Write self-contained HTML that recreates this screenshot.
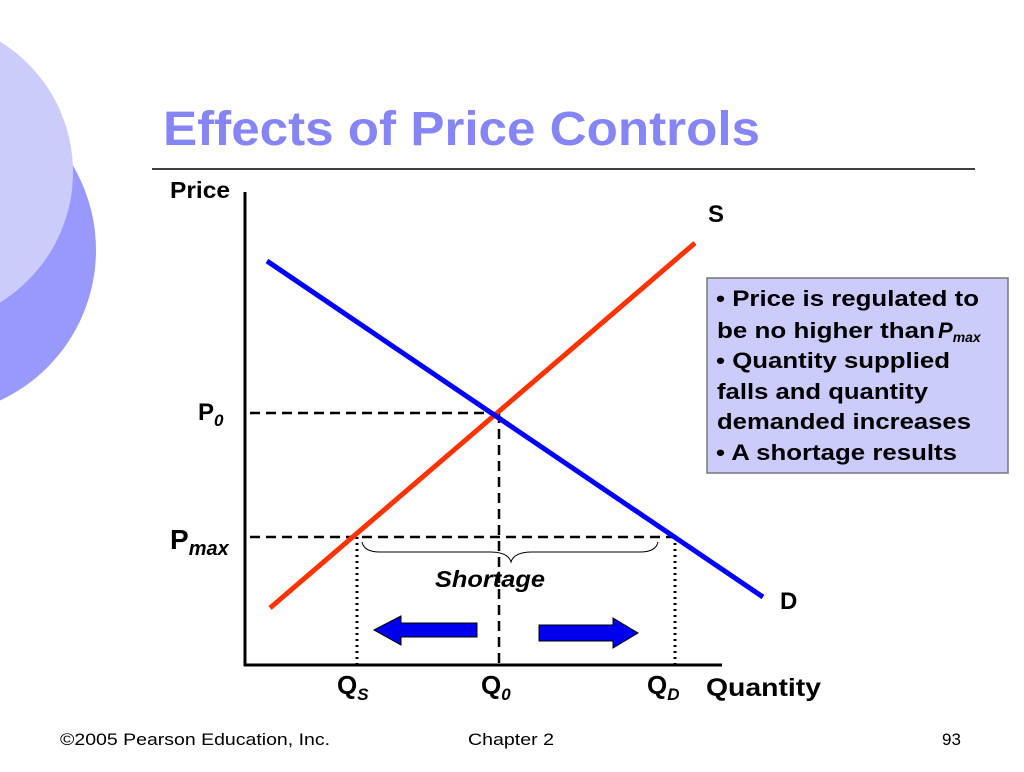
<!DOCTYPE html>
<html><head><style>
body{margin:0;width:1024px;height:767px;overflow:hidden;background:#fff;font-family:"Liberation Sans",sans-serif}
</style></head><body>
<svg width="1024" height="767" xmlns="http://www.w3.org/2000/svg" font-family="Liberation Sans, sans-serif">
<circle cx="-70" cy="250" r="166" fill="#9999fc"/>
<circle cx="-80" cy="172" r="153" fill="#ccccfb"/>
<text x="163" y="145" font-size="48" font-weight="bold" fill="#8585f5" textLength="597" lengthAdjust="spacingAndGlyphs">Effects of Price Controls</text>
<line x1="152" y1="169" x2="975" y2="169" stroke="#000" stroke-width="1.5"/>
<text x="170" y="198" font-size="23" font-weight="bold" textLength="60" lengthAdjust="spacingAndGlyphs">Price</text>
<line x1="245" y1="192" x2="245" y2="666" stroke="#000" stroke-width="3"/>
<line x1="244" y1="665" x2="722" y2="665" stroke="#000" stroke-width="3"/>
<g stroke="#000" stroke-width="2.5" stroke-dasharray="10,6">
<line x1="250" y1="413" x2="497" y2="413"/>
<line x1="499" y1="413" x2="499" y2="664"/>
<line x1="250" y1="537" x2="675" y2="537"/>
</g>
<g stroke="#000" stroke-width="3" stroke-dasharray="2,4">
<line x1="357" y1="537" x2="357" y2="664"/>
<line x1="675" y1="537" x2="675" y2="664"/>
</g>
<path d="M362 542 Q364 552 380 552 L490 552 Q508 552 511 562 Q514 552 532 552 L640 552 Q656 552 658 542" fill="none" stroke="#000" stroke-width="1"/>
<line x1="270" y1="608" x2="695" y2="243" stroke="#ff3300" stroke-width="5"/>
<line x1="267" y1="261" x2="763" y2="597" stroke="#0000ff" stroke-width="5"/>
<polygon points="374,630 401,616 401,623 477,623 477,637 401,637 401,645" fill="#0000ee" stroke="#000" stroke-width="1"/>
<polygon points="539,625 613,625 613,618 638,633 613,648 613,641 539,641" fill="#0000ee" stroke="#000" stroke-width="1"/>
<text x="435" y="587" font-size="23" font-weight="bold" font-style="italic" textLength="110" lengthAdjust="spacingAndGlyphs">Shortage</text>
<text x="708" y="222" font-size="24" font-weight="bold">S</text>
<text x="780" y="609" font-size="24" font-weight="bold">D</text>
<text x="198" y="420" font-size="24" font-weight="bold">P<tspan font-size="17" font-style="italic" dy="6">0</tspan></text>
<text x="170" y="549" font-size="28" font-weight="bold">P<tspan font-size="20" font-style="italic" dy="6">max</tspan></text>
<text x="337" y="694" font-size="26" font-weight="bold">Q<tspan font-size="17" font-style="italic" dy="6">S</tspan></text>
<text x="481" y="694" font-size="26" font-weight="bold">Q<tspan font-size="17" font-style="italic" dy="6">0</tspan></text>
<text x="647" y="694" font-size="26" font-weight="bold">Q<tspan font-size="17" font-style="italic" dy="6">D</tspan></text>
<text x="706" y="696" font-size="25" font-weight="bold" textLength="115" lengthAdjust="spacingAndGlyphs">Quantity</text>
<rect x="707" y="278" width="301" height="195" fill="#ccccfc" stroke="#777" stroke-width="1.5"/>
<g font-size="22" font-weight="bold">
<text x="716" y="306" textLength="263" lengthAdjust="spacingAndGlyphs">• Price is regulated to</text>
<text x="717" y="338" textLength="218" lengthAdjust="spacingAndGlyphs">be no higher than</text>
<text x="938" y="338" font-style="italic">P<tspan font-size="14" dy="4">max</tspan></text>
<text x="716" y="368" textLength="234" lengthAdjust="spacingAndGlyphs">• Quantity supplied</text>
<text x="717" y="399" textLength="211" lengthAdjust="spacingAndGlyphs">falls and quantity</text>
<text x="717" y="429" textLength="254" lengthAdjust="spacingAndGlyphs">demanded increases</text>
<text x="716" y="460" textLength="241" lengthAdjust="spacingAndGlyphs">• A shortage results</text>
</g>
<text x="60" y="745" font-size="17" textLength="270" lengthAdjust="spacingAndGlyphs">©2005 Pearson Education, Inc.</text>
<text x="468" y="745" font-size="17" textLength="86" lengthAdjust="spacingAndGlyphs">Chapter 2</text>
<text x="942" y="745" font-size="17">93</text>
</svg>
</body></html>
